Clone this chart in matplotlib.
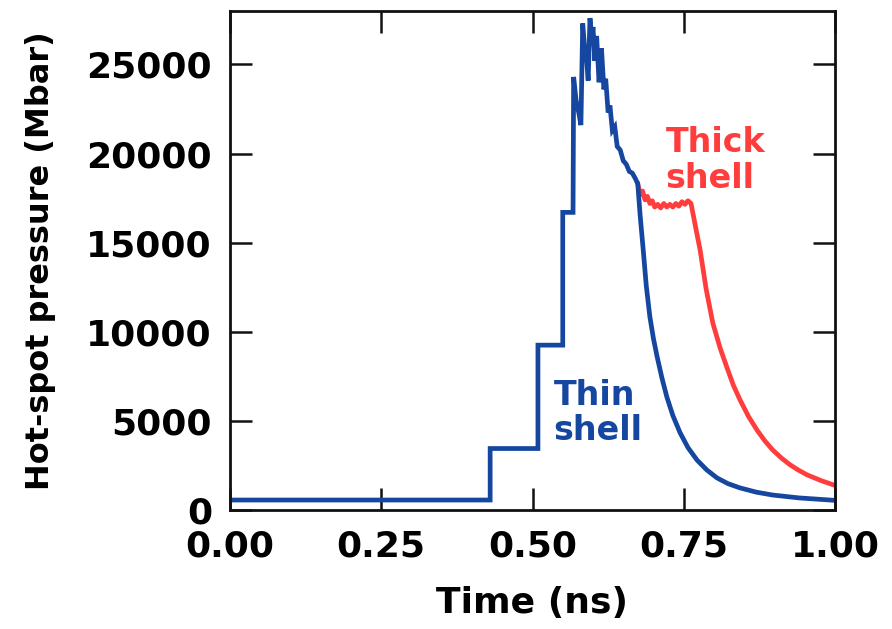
import matplotlib
matplotlib.use("Agg")
import matplotlib.pyplot as plt

plt.rcParams['font.family'] = ['DejaVu Sans']
plt.rcParams['font.weight'] = 'bold'

# Thin shell (blue) – full trace
thin_t = [0.0, 0.430, 0.430, 0.509, 0.509, 0.550, 0.550, 0.567, 0.568, 0.572, 0.577,
          0.580, 0.583, 0.586, 0.589, 0.592, 0.595, 0.598, 0.600, 0.603, 0.606, 0.610,
          0.614, 0.618, 0.621, 0.625, 0.628, 0.632, 0.636, 0.640, 0.645, 0.650, 0.655,
          0.660, 0.665, 0.670, 0.674, 0.678, 0.683, 0.688, 0.694, 0.700, 0.706, 0.714,
          0.722, 0.732, 0.744, 0.757, 0.772, 0.788, 0.805, 0.823, 0.843, 0.870, 0.897,
          0.940, 1.0]
thin_p = [560, 560, 3450, 3450, 9250, 9250, 16700, 16700, 24300, 23000, 22200,
          21600, 27300, 26000, 25500, 24100, 27600, 26500, 27100, 25200, 26600, 24000,
          25900, 23600, 24200, 22300, 22700, 21300, 21500, 20400, 20200, 19600, 19400,
          19000, 18900, 18600, 18300, 16500, 14600, 12600, 10840, 9600, 8600, 7400,
          6350, 5300, 4330, 3500, 2800, 2250, 1800, 1480, 1240, 1000, 840,
          680, 540]

# Thick shell (red) – part after it departs from the thin-shell trace
thick_t = [0.674, 0.678, 0.682, 0.686, 0.690, 0.694, 0.698, 0.702, 0.707, 0.712,
           0.717, 0.722, 0.727, 0.732, 0.737, 0.742, 0.747, 0.752, 0.757, 0.762,
           0.770, 0.777, 0.787, 0.798, 0.810, 0.821, 0.832, 0.843, 0.857, 0.871,
           0.884, 0.897, 0.912, 0.926, 0.940, 0.954, 0.977, 1.0]
thick_p = [18300, 17700, 17900, 17400, 17600, 17200, 17350, 17000, 17150, 16950,
           17200, 17000, 17150, 17000, 17200, 17050, 17300, 17150, 17350, 17200,
           15800, 14600, 12400, 10500, 9100, 8030, 7000, 6180, 5250, 4490,
           3880, 3370, 2900, 2530, 2230, 1970, 1650, 1380]

x_ticks = [0.0, 0.25, 0.5, 0.75, 1.0]
x_tick_labels = ["0.00", "0.25", "0.50", "0.75", "1.00"]
y_ticks = [0, 5000, 10000, 15000, 20000, 25000]
y_tick_labels = ["0", "5000", "10000", "15000", "20000", "25000"]

BLUE = "#1547a0"
RED = "#ff3d3d"

fig = plt.figure(figsize=(8.92, 6.29), dpi=100)
ax = fig.add_axes([230/892, 1 - 510/629, (835-230)/892, (510-11)/629])

ax.plot(thick_t, thick_p, color=RED, lw=3.4, solid_joinstyle='round')
ax.plot(thin_t, thin_p, color=BLUE, lw=3.4, solid_joinstyle='miter')

ax.set_xlim(0, 1.0)
ax.set_ylim(0, 28000)
ax.set_xticks(x_ticks)
ax.set_xticklabels(x_tick_labels)
ax.set_yticks(y_ticks)
ax.set_yticklabels(y_tick_labels)

for s in ax.spines.values():
    s.set_linewidth(2.0)
    s.set_color("#111111")

ax.tick_params(direction='in', length=16, width=1.8, top=True, right=True,
               labelsize=26, color="#111111")
ax.tick_params(axis='x', pad=14)
ax.tick_params(axis='y', pad=13)
for lab in ax.get_xticklabels() + ax.get_yticklabels():
    lab.set_fontweight('bold')

ax.set_xlabel("Time (ns)", fontsize=26, fontweight='bold', labelpad=16)
ax.set_ylabel("Hot-spot pressure (Mbar)", fontsize=23, fontweight='bold', labelpad=22)

ax.text(0.535, 5450, "Thin\nshell", color=BLUE, fontsize=24, fontweight='bold',
        ha='left', va='center', linespacing=1.1)
ax.text(0.72, 19600, "Thick\nshell", color=RED, fontsize=24, fontweight='bold',
        ha='left', va='center', linespacing=1.1)

fig.savefig("out.png", dpi=100)
